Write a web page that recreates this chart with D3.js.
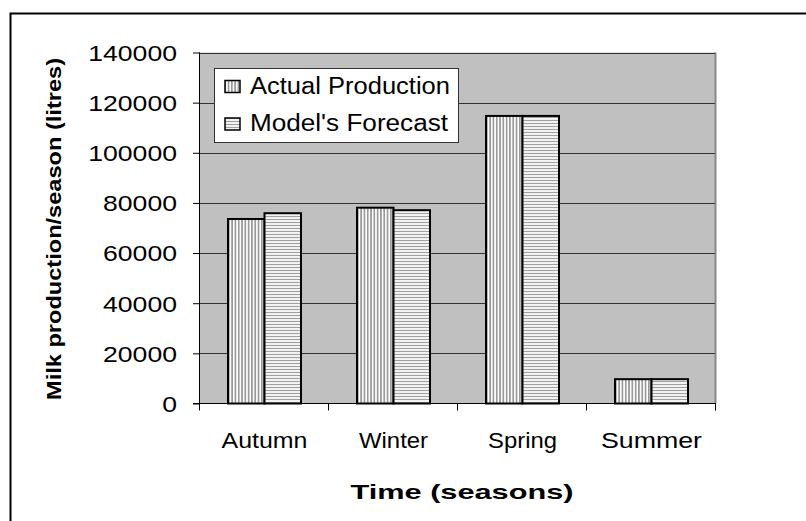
<!DOCTYPE html>
<html>
<head>
<meta charset="utf-8">
<script src="https://cdn.jsdelivr.net/npm/d3@7"></script>
<style>
  body { margin: 0; background: #fff; }
  text { font-family: "Liberation Sans", Arial, sans-serif; fill: #000; }
</style>
</head>
<body>
<div id="container"></div>
<script>
const WIDTH = 806;
const HEIGHT = 521;
const PLOT = { LEFT: 200, RIGHT: 716, TOP: 52.5, BOTTOM: 403.5 };

const seasons = ['Autumn', 'Winter', 'Spring', 'Summer'];
const seriesNames = ['Actual Production', "Model's Forecast"];
const actual = [73600, 78100, 114700, 9700];
const forecast = [75900, 77100, 114700, 9700];
const yTicks = [0, 20000, 40000, 60000, 80000, 100000, 120000, 140000];

const svg = d3.select('#container')
  .append('svg')
    .attr('width', WIDTH)
    .attr('height', HEIGHT);

const defs = svg.append('defs');

// vertical stripes for actual production
const pv = defs.append('pattern')
    .attr('id', 'vstripe')
    .attr('patternUnits', 'userSpaceOnUse')
    .attr('width', 3.3).attr('height', 10);
pv.append('rect').attr('width', 3.3).attr('height', 10).attr('fill', '#fff');
pv.append('rect').attr('width', 1.7).attr('height', 10).attr('fill', '#999');

// horizontal stripes for the forecast
const ph = defs.append('pattern')
    .attr('id', 'hstripe')
    .attr('patternUnits', 'userSpaceOnUse')
    .attr('width', 10).attr('height', 3);
ph.append('rect').attr('width', 10).attr('height', 3).attr('fill', '#f2f2f2');
ph.append('rect').attr('width', 10).attr('height', 1).attr('fill', '#a0a0a0');

const fills = ['url(#vstripe)', 'url(#hstripe)'];

// outer frame
svg.append('rect')
    .attr('x', 10.5).attr('y', 13.5)
    .attr('width', 900).attr('height', 600)
    .attr('fill', 'none')
    .attr('stroke', '#000')
    .attr('stroke-width', 2);

const x = d3.scaleBand()
    .domain(seasons)
    .range([PLOT.LEFT, PLOT.RIGHT])
    .paddingInner(0.434)
    .paddingOuter(0.217);

const xSub = d3.scaleBand()
    .domain(seriesNames)
    .range([0, x.bandwidth()]);

const y = d3.scaleLinear()
    .domain([0, 140000])
    .range([PLOT.BOTTOM, PLOT.TOP]);

// plot area
svg.append('rect')
    .attr('x', PLOT.LEFT).attr('y', PLOT.TOP)
    .attr('width', PLOT.RIGHT - PLOT.LEFT)
    .attr('height', PLOT.BOTTOM - PLOT.TOP)
    .attr('fill', '#c0c0c0');

svg.append('line')
    .attr('x1', PLOT.RIGHT - 0.5).attr('x2', PLOT.RIGHT - 0.5)
    .attr('y1', PLOT.TOP).attr('y2', PLOT.BOTTOM)
    .attr('stroke', '#888').attr('stroke-width', 2);

// gridlines
svg.append('g')
  .selectAll('line')
  .data(yTicks.filter(d => d > 0))
  .enter()
  .append('line')
    .attr('x1', PLOT.LEFT).attr('x2', PLOT.RIGHT - 1)
    .attr('y1', d => Math.round(y(d)) + 0.5)
    .attr('y2', d => Math.round(y(d)) + 0.5)
    .attr('stroke', '#333')
    .attr('stroke-width', 1);

// bars
const data = seasons.map((s, i) => ({ season: s, values: [actual[i], forecast[i]] }));

const groups = svg.append('g')
  .selectAll('g')
  .data(data)
  .enter()
  .append('g')
    .attr('transform', d => `translate(${x(d.season)},0)`);

groups.selectAll('rect')
  .data(d => d.values.map((v, k) => ({ name: seriesNames[k], value: v, k })))
  .enter()
  .append('rect')
    .attr('x', d => xSub(d.name))
    .attr('y', d => y(d.value))
    .attr('width', xSub.bandwidth())
    .attr('height', d => y(0) - y(d.value))
    .attr('fill', d => fills[d.k])
    .attr('stroke', '#000')
    .attr('stroke-width', 2);

// y axis
const yAxis = svg.append('g')
    .attr('transform', `translate(${PLOT.LEFT},0)`)
    .call(d3.axisLeft(y).tickValues(yTicks).tickSize(7).tickFormat(d3.format('d')));
yAxis.select('.domain').attr('stroke', '#000').attr('d', `M-0.5,${PLOT.TOP}V${PLOT.BOTTOM}`);
yAxis.selectAll('.tick line').attr('stroke', '#000');
yAxis.selectAll('.tick text')
    .attr('x', -23)
    .attr('dy', '0.36em')
    .style('font-size', '22px')
    .attr('textLength', d => String(d).length * 14.8)
    .attr('lengthAdjust', 'spacingAndGlyphs');

// x axis
const xAxis = svg.append('g')
    .attr('transform', `translate(0,${PLOT.BOTTOM})`)
    .call(d3.axisBottom(x).tickSize(0).tickPadding(0));
xAxis.select('.domain').remove();
xAxis.append('line')
    .attr('x1', PLOT.LEFT - 7).attr('x2', PLOT.RIGHT)
    .attr('stroke', '#000');
xAxis.selectAll('.bound')
  .data(d3.range(seasons.length + 1))
  .enter()
  .append('line')
    .attr('class', 'bound')
    .attr('x1', i => PLOT.LEFT + i * x.step() - 0.5)
    .attr('x2', i => PLOT.LEFT + i * x.step() - 0.5)
    .attr('y1', 0).attr('y2', 7)
    .attr('stroke', '#000');
const labelWidths = { Autumn: 86, Winter: 69, Spring: 69, Summer: 101 };
xAxis.selectAll('.tick text')
    .attr('y', 44)
    .attr('dy', 0)
    .style('font-size', '22px')
    .attr('textLength', d => labelWidths[d])
    .attr('lengthAdjust', 'spacingAndGlyphs');

// axis titles
svg.append('text')
    .attr('x', (PLOT.LEFT + PLOT.RIGHT) / 2 + 4)
    .attr('y', 499)
    .attr('text-anchor', 'middle')
    .style('font-size', '21px')
    .style('font-weight', 'bold')
    .attr('textLength', 223)
    .attr('lengthAdjust', 'spacingAndGlyphs')
    .text('Time (seasons)');

svg.append('text')
    .attr('transform', 'translate(61,229) rotate(-90)')
    .attr('text-anchor', 'middle')
    .style('font-size', '21px')
    .style('font-weight', 'bold')
    .attr('textLength', 342)
    .attr('lengthAdjust', 'spacingAndGlyphs')
    .text('Milk production/season (litres)');

// legend
const legend = svg.append('g').attr('transform', 'translate(214.5,68.5)');
legend.append('rect')
    .attr('width', 244).attr('height', 74)
    .attr('fill', '#fff')
    .attr('stroke', '#333')
    .attr('stroke-width', 1);

const legendWidths = [200, 198];
const items = legend.selectAll('.item')
  .data(seriesNames)
  .enter()
  .append('g')
    .attr('class', 'item')
    .attr('transform', (d, i) => `translate(0,${i * 37.5})`);

items.append('rect')
    .attr('x', 10.5).attr('y', 12)
    .attr('width', 15).attr('height', 12)
    .attr('fill', (d, i) => fills[i])
    .attr('stroke', '#000')
    .attr('stroke-width', 1.5);

items.append('text')
    .attr('x', 35.5)
    .attr('y', 25)
    .style('font-size', '23px')
    .attr('textLength', (d, i) => legendWidths[i])
    .attr('lengthAdjust', 'spacingAndGlyphs')
    .text(d => d);
</script>
</body>
</html>
